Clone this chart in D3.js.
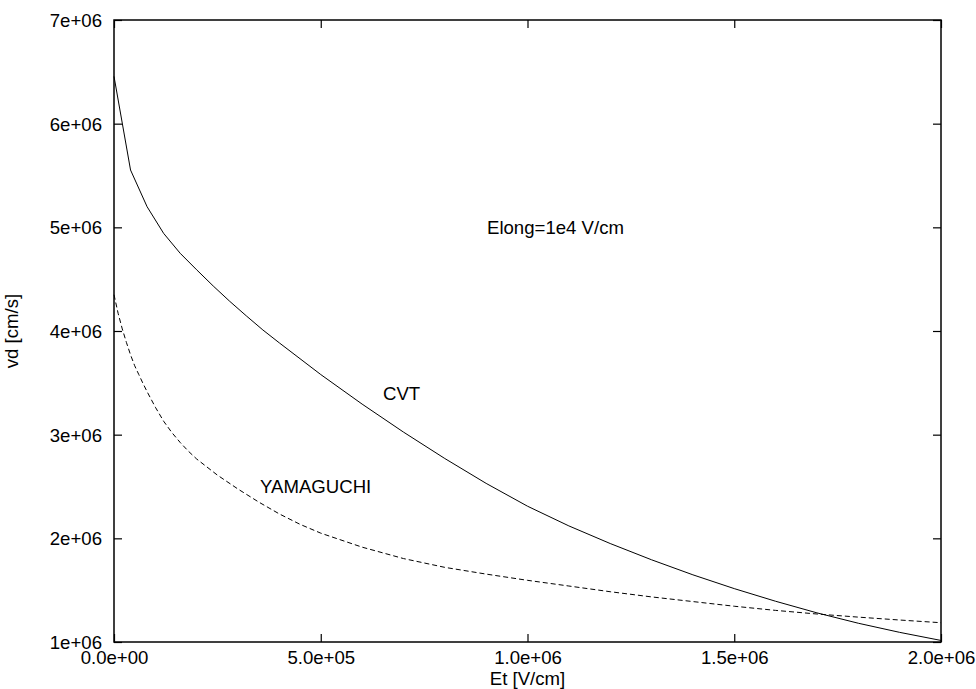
<!DOCTYPE html>
<html>
<head>
<meta charset="utf-8">
<script src="https://cdn.jsdelivr.net/npm/d3@7"></script>
<style>
  html, body { margin: 0; padding: 0; background: #fff; }
  svg text { font-family: "Liberation Sans", Arial, sans-serif; font-size: 18.6px; fill: #000; }
</style>
</head>
<body>
<svg id="chart" width="976" height="689"></svg>
<script>
// Transverse field Et [V/cm] sample points, CVT model
const etCVT = [0, 4e4, 8e4, 1.2e5, 1.6e5, 2e5, 2.4e5, 2.8e5, 3.2e5, 3.6e5, 4e5,
  5e5, 6e5, 7e5, 8e5, 9e5, 1e6, 1.1e6, 1.2e6, 1.3e6, 1.4e6, 1.5e6, 1.6e6, 1.7e6,
  1.8e6, 1.9e6, 2e6];
// Drift velocity vd [cm/s], CVT model
const vdCVT = [6.456e6, 5.553e6, 5.199e6, 4.942e6, 4.75e6, 4.59e6, 4.434e6, 4.286e6, 4.146e6,
  4.01e6, 3.885e6, 3.58e6, 3.295e6, 3.025e6, 2.77e6, 2.53e6, 2.31e6, 2.12e6, 1.95e6,
  1.793e6, 1.648e6, 1.515e6, 1.393e6, 1.281e6, 1.181e6, 1.093e6, 1.015e6];

// Transverse field Et [V/cm] sample points, YAMAGUCHI model
const etYam = [0, 1e4, 2e4, 3e4, 4e4, 5e4, 6e4, 7e4, 8e4, 1e5, 1.2e5, 1.4e5, 1.6e5, 1.8e5,
  2e5, 2.5e5, 3e5, 3.5e5, 4e5, 4.5e5, 5e5, 6e5, 7e5, 8e5, 9e5, 1e6, 1.1e6, 1.2e6,
  1.3e6, 1.4e6, 1.5e6, 1.6e6, 1.7e6, 1.8e6, 1.9e6, 2e6];
// Drift velocity vd [cm/s], YAMAGUCHI model
const vdYam = [4.35e6, 4.17e6, 4.02e6, 3.89e6, 3.77e6, 3.665e6, 3.58e6, 3.495e6, 3.415e6,
  3.265e6, 3.13e6, 3.02e6, 2.925e6, 2.84e6, 2.765e6, 2.61e6, 2.475e6, 2.35e6, 2.235e6,
  2.135e6, 2.05e6, 1.915e6, 1.805e6, 1.72e6, 1.655e6, 1.595e6, 1.54e6, 1.485e6,
  1.435e6, 1.39e6, 1.345e6, 1.305e6, 1.27e6, 1.24e6, 1.212e6, 1.186e6];

const xTicks = [0, 5e5, 1e6, 1.5e6, 2e6];
const xTickLabels = ["0.0e+00", "5.0e+05", "1.0e+06", "1.5e+06", "2.0e+06"];
const yTicks = [1e6, 2e6, 3e6, 4e6, 5e6, 6e6, 7e6];
const yTickLabels = ["1e+06", "2e+06", "3e+06", "4e+06", "5e+06", "6e+06", "7e+06"];

const svg = d3.select("#chart");
const L = 114, R = 941, T = 20, B = 642;
const tick = 8;

const x = d3.scaleLinear().domain([0, 2e6]).range([L, R]);
const y = d3.scaleLinear().domain([1e6, 7e6]).range([B, T]);

// Curves (straight segments between samples)
const line = d3.line().x(d => x(d[0])).y(d => y(d[1]));
svg.append("path")
  .datum(d3.zip(etCVT, vdCVT))
  .attr("d", line)
  .attr("fill", "none").attr("stroke", "#000").attr("stroke-width", 1);
svg.append("path")
  .datum(d3.zip(etYam, vdYam))
  .attr("d", line)
  .attr("fill", "none").attr("stroke", "#000").attr("stroke-width", 1)
  .attr("stroke-dasharray", "5,3");

// Axes with inward ticks, mirrored on top and right
const fmtX = d => xTickLabels[xTicks.indexOf(d)];
const fmtY = d => yTickLabels[yTicks.indexOf(d)];

const gB = svg.append("g").attr("transform", `translate(0,${B})`)
  .call(d3.axisBottom(x).tickValues(xTicks).tickFormat(fmtX).tickSizeInner(-tick).tickSizeOuter(0).tickPadding(9));
const gT = svg.append("g").attr("transform", `translate(0,${T})`)
  .call(d3.axisTop(x).tickValues(xTicks).tickFormat("").tickSizeInner(-tick).tickSizeOuter(0));
const gL = svg.append("g").attr("transform", `translate(${L},0)`)
  .call(d3.axisLeft(y).tickValues(yTicks).tickFormat(fmtY).tickSizeInner(-tick).tickSizeOuter(0).tickPadding(12));
const gR = svg.append("g").attr("transform", `translate(${R},0)`)
  .call(d3.axisRight(y).tickValues(yTicks).tickFormat("").tickSizeInner(-tick).tickSizeOuter(0));

[gB, gT, gL, gR].forEach(g => {
  g.select(".domain").remove();
  g.selectAll("line").attr("stroke", "#000").attr("stroke-width", 1.2);
  g.selectAll("text").attr("font-size", null).attr("font-family", null).attr("fill", "#000");
  g.attr("font-size", null).attr("font-family", null);
});
gB.selectAll("text").attr("dy", "0.71em");
gL.selectAll("text").attr("dy", "0.35em");

// Frame
svg.append("rect")
  .attr("x", L).attr("y", T).attr("width", R - L).attr("height", B - T)
  .attr("fill", "none").attr("stroke", "#000").attr("stroke-width", 1.5);

// Axis titles
svg.append("text").attr("x", (L + R) / 2).attr("y", 685)
  .attr("text-anchor", "middle").text("Et [V/cm]");
svg.append("text")
  .attr("transform", `translate(18,${(T + B) / 2}) rotate(-90)`)
  .attr("text-anchor", "middle").text("vd [cm/s]");

// Annotations
svg.append("text").attr("x", 487).attr("y", 234).text("Elong=1e4 V/cm");
svg.append("text").attr("x", 383).attr("y", 400).text("CVT");
svg.append("text").attr("x", 260).attr("y", 493).text("YAMAGUCHI");
</script>
</body>
</html>
